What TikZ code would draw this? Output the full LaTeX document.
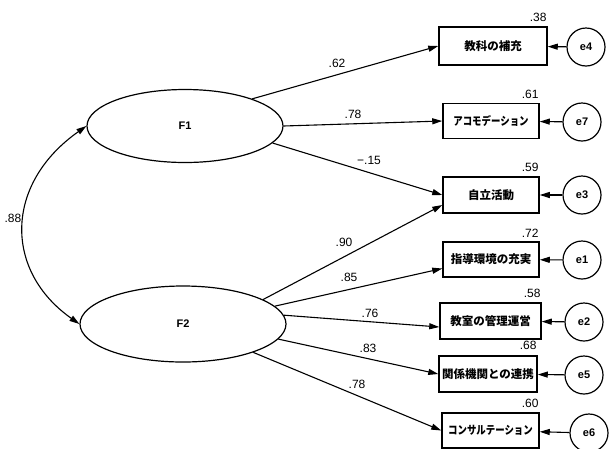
\documentclass[tikz,border=0pt]{standalone}
\usepackage{fontspec}
\setmainfont{Liberation Sans}
\newfontfamily\jpfont{Noto Sans CJK JP}
\newfontfamily\jpkana[FakeStretch=0.82]{Noto Sans CJK JP}
\usepackage{tikz}
\usetikzlibrary{arrows.meta,positioning,shapes.geometric}
\tikzset{
  arrow/.style={-{Triangle[length=10pt,width=6pt]},line width=1.1pt},
  biarrow/.style={{Triangle[length=10pt,width=6pt]}-{Triangle[length=10pt,width=6pt]},line width=1.1pt},
  factor/.style={ellipse,draw,line width=1.2pt,inner sep=0pt,
    font=\fontsize{11}{13}\selectfont\bfseries},
  item/.style={draw,line width=1.5pt,minimum width=96pt,minimum height=35pt,
    inner sep=0pt,font=\jpfont\fontsize{11.5}{13}\selectfont\bfseries},
  kana/.style={font=\jpkana\fontsize{11.5}{13}\selectfont\bfseries},
  err/.style={circle,draw,line width=1.2pt,minimum size=38pt,inner sep=0pt,
    font=\fontsize{11}{13}\selectfont\bfseries},
  coef/.style={inner sep=1pt,font=\fontsize{12}{14}\selectfont},
  rsq/.style={coef}
}

\begin{document}
\begin{tikzpicture}[x=1pt,y=-1pt]
  \useasboundingbox (0,0) rectangle (609,448);
  % latent factors
  \node[factor,minimum width=196pt,minimum height=73pt] (F1) at (185,126) {F1};
  \node[factor,minimum width=206pt,minimum height=76pt] (F2) at (183,324) {F2};
  % observed items
  \node[item,minimum width=108pt,minimum height=38pt] (b1) at (493,46) {教科の補充};
  \node[item,kana] (b2) at (491,121) {アコモデーション};
  \node[item,minimum height=36pt] (b3) at (491,195) {自立活動};
  \node[item] (b4) at (491,259.5) {指導環境の充実};
  \node[item,minimum width=101pt,minimum height=36pt] (b5) at (490.5,321) {教室の管理運営};
  \node[item,minimum width=98pt,minimum height=36pt] (b6) at (488,374) {関係機関との連携};
  \node[item,kana,minimum width=97pt] (b7) at (490.5,430.5) {コンサルテーション};
  % error terms
  \node[err] (e4) at (586,47) {e4};
  \node[err] (e7) at (582,122) {e7};
  \node[err] (e3) at (582,195) {e3};
  \node[err] (e1) at (582,260) {e1};
  \node[err] (e2) at (584,322) {e2};
  \node[err] (e5) at (584,375) {e5};
  \node[err] (e6) at (589,433) {e6};
  % squared multiple correlations
  \node[rsq,above left=3pt and 0pt of b1.north east] (r1) {.38};
  \node[rsq,above left=3pt and 0pt of b2.north east] (r2) {.61};
  \node[rsq,above left=3pt and 0pt of b3.north east] (r3) {.59};
  \node[rsq,above left=3pt and 0pt of b4.north east] (r4) {.72};
  \node[rsq,above left=3pt and 0pt of b5.north east] (r5) {.58};
  \node[rsq,above left=4pt and 0pt of b6.north east] (r6) {.68};
  \node[rsq,above left=3pt and 0pt of b7.north east] (r7) {.60};
  % loadings
  \draw[arrow] (F1.22) -- (b1.west);
  \draw[arrow] (F1.0) -- (b2.west);
  \draw[arrow] (F1.-11) -- (b3.west);
  \draw[arrow] (F2.17.4) -- ([yshift=-10pt]b3.west);
  \draw[arrow] (F2.11) -- ([yshift=-9pt]b4.west);
  \draw[arrow] (F2.5) -- ([yshift=-6pt]b5.west);
  \draw[arrow] (F2.-9.5) -- (b6.west);
  \draw[arrow] (F2.-22) -- (b7.west);
  % errors
  \draw[arrow] (e4) -- (b1);
  \draw[arrow] (e7) -- (b2);
  \draw[arrow] (e3) -- (b3);
  \draw[arrow] (e1) -- (b4);
  \draw[arrow] (e2) -- (b5);
  \draw[arrow] (e5) -- (b6);
  \draw[arrow] (e6) -- (b7);
  % factor correlation
  \draw[biarrow] (F1.west) .. controls (4,184) and (4,271) .. (F2.west);
  % coefficients
  \node[coef] (c1) at (337,63) {.62};
  \node[coef] (c2) at (353,114) {.78};
  \node[coef] (c3) at (369,160) {−.15};
  \node[coef] (c4) at (344,242) {.90};
  \node[coef] (c5) at (349,277) {.85};
  \node[coef] (c6) at (370,313) {.76};
  \node[coef] (c7) at (368,348) {.83};
  \node[coef] (c8) at (357,384) {.78};
  \node[coef] (c9) at (13,218) {.88};
\end{tikzpicture}
\end{document}
